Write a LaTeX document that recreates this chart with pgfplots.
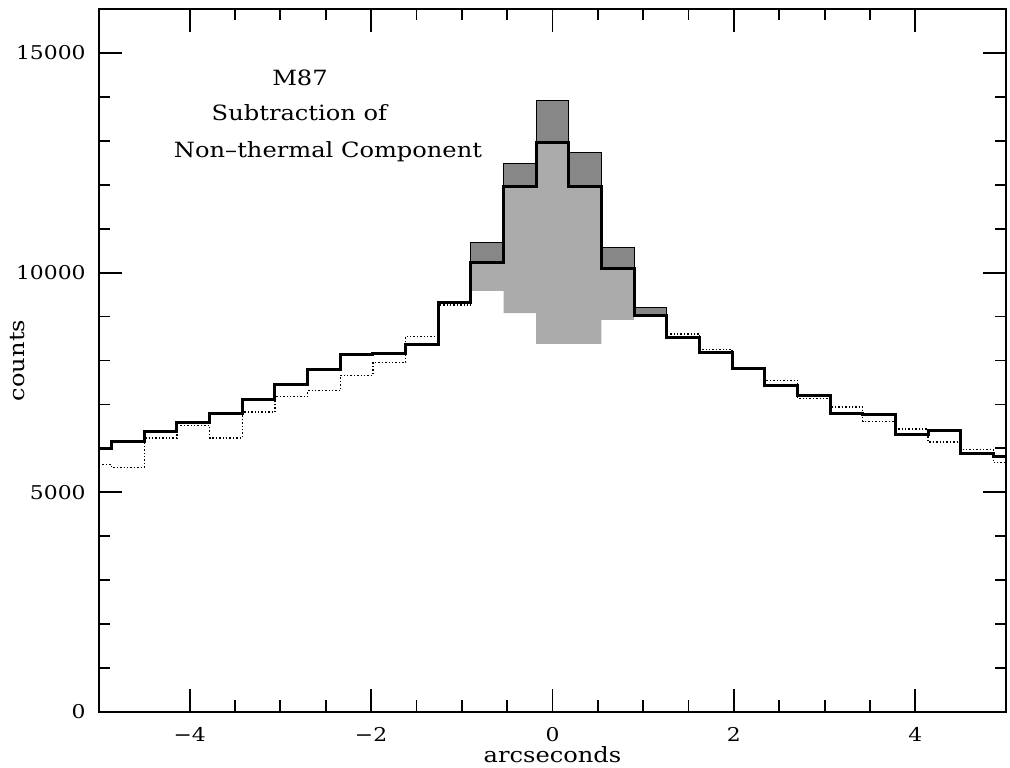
\documentclass[border=0pt]{standalone}
\usepackage{fontspec}
\setmainfont{DejaVu Serif}[FakeStretch=1.15]
\usepackage{pgfplots}
\pgfplotsset{compat=1.18}
\usepackage{pgfplotstable}

% thick solid histogram (left bin edges)
\pgfplotstableread{
x y
-5.00 5990
-4.86 6160
-4.50 6390
-4.14 6590
-3.78 6795
-3.42 7120
-3.06 7445
-2.70 7790
-2.34 8145
-1.98 8150
-1.62 8355
-1.26 9325
-0.90 10220
-0.54 11970
-0.18 12960
0.18 11955
0.54 10100
0.90 9015
1.26 8530
1.62 8175
1.98 7810
2.34 7430
2.70 7195
3.06 6790
3.42 6765
3.78 6310
4.14 6410
4.50 5880
4.86 5820
5.00 5820
}\solidtab

% dotted histogram, left part
\pgfplotstableread{
x y
-5.00 5630
-4.86 5570
-4.50 6240
-4.14 6520
-3.78 6240
-3.42 6825
-3.06 7180
-2.70 7310
-2.34 7665
-1.98 7955
-1.62 8550
-1.26 9265
-0.90 9265
}\dleft

% dotted histogram, right part
\pgfplotstableread{
x y
1.26 8605
1.62 8250
1.98 7800
2.34 7545
2.70 7130
3.06 6940
3.42 6615
3.78 6445
4.14 6145
4.50 5975
4.86 5675
5.00 5675
}\dright

% top outline of the dark shading
\pgfplotstableread{
x y
-0.90 10220
-0.90 10690
-0.54 12485
-0.18 13925
0.18 12735
0.54 10575
0.90 9200
1.26 9015
}\toptab

\begin{document}
\begin{tikzpicture}
\begin{axis}[
  scale only axis,
  width=453.5pt, height=351.5pt,
  xmin=-5, xmax=5, ymin=0, ymax=16000,
  xtick={-4,-2,0,2,4},
  xticklabels={−4,−2,0,2,4},
  minor x tick num=3,
  ytick={0,5000,10000,15000},
  yticklabels={0,5000,10000,15000},
  minor y tick num=4,
  tick align=inside,
  major tick length=11.5pt,
  minor tick length=5.75pt,
  every tick/.style={black, line width=0.9pt},
  axis line style={line width=1pt},
  xticklabel style={font=\fontsize{9.5}{11}\selectfont, inner sep=0pt, anchor=north, yshift=-7.5pt},
  yticklabel style={font=\fontsize{9.5}{11}\selectfont, inner sep=0pt, anchor=east, xshift=-6.5pt},
  xlabel={arcseconds},
  ylabel={counts},
  xlabel style={at={(axis description cs:0.5,-0.0725)}, anchor=base, inner sep=0pt, font=\fontsize{10.5}{12}\selectfont},
  ylabel style={at={(axis description cs:-0.0826,0.5)}, anchor=base, inner sep=0pt, font=\fontsize{10.5}{12}\selectfont},
]
% light shading: between the solid histogram and its lower edge
\addplot[fill=black!33, draw=none, forget plot] coordinates {
  (-0.90,10220) (-0.54,10220) (-0.54,11970) (-0.18,11970) (-0.18,12960)
  (0.18,12960) (0.18,11955) (0.54,11955) (0.54,10100) (0.90,10100)
  (0.90,8924) (0.54,8924) (0.54,8379) (-0.18,8379) (-0.18,9076)
  (-0.54,9076) (-0.54,9585) (-0.90,9585)
} -- cycle;
% dark shading: between the top outline and the solid histogram
\addplot[fill=black!47, draw=none, forget plot] coordinates {
  (-0.90,10220) (-0.90,10690) (-0.54,10690) (-0.54,12485) (-0.18,12485)
  (-0.18,13925) (0.18,13925) (0.18,12735) (0.54,12735) (0.54,10575)
  (0.90,10575) (0.90,9200) (1.26,9200) (1.26,9015) (0.90,9015)
  (0.90,10100) (0.54,10100) (0.54,11955) (0.18,11955) (0.18,12960)
  (-0.18,12960) (-0.18,11970) (-0.54,11970) (-0.54,10220)
} -- cycle;

% visible lines
\addplot[black, densely dotted, line width=0.7pt, const plot] table {\dleft};
\addplot[black, densely dotted, line width=0.7pt, const plot] table {\dright};
\addplot[black, line width=0.6pt, const plot] table {\toptab};
\addplot[black, line width=1.5pt, const plot] table {\solidtab};

\node[anchor=base, font=\fontsize{10.5}{12}\selectfont] at (axis cs:-2.784,14250) {M87};
\node[anchor=base, font=\fontsize{10.5}{12}\selectfont] at (axis cs:-2.79,13470) {Subtraction of};
\node[anchor=base, font=\fontsize{10.5}{12}\selectfont] at (axis cs:-2.475,12621) {Non–thermal Component};
\end{axis}
\pgfresetboundingbox
\path ([shift={(-49.5pt,-28pt)}]current axis.south west) rectangle ([shift={(2pt,4.5pt)}]current axis.north east);
\end{tikzpicture}
\end{document}
